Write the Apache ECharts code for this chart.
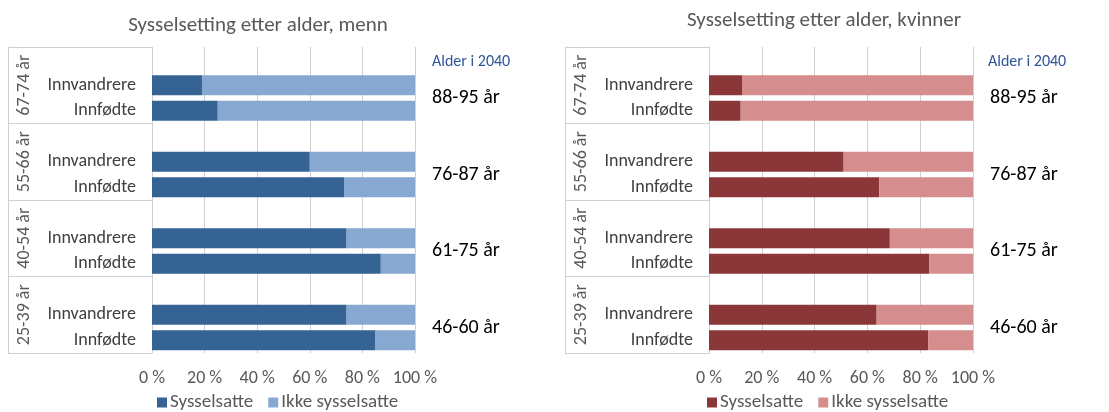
<!DOCTYPE html>
<html>
<head>
<meta charset="utf-8">
<script src="https://cdn.jsdelivr.net/npm/echarts@6/dist/echarts.min.js"></script>
<style>
  html, body { margin: 0; padding: 0; background: #fff; }
  #chart { width: 1109px; height: 412px; }
</style>
</head>
<body>
<div id="chart"></div>
<script>
// alle grupper, ovenfra og ned
const groups = ['67-74 år', '55-66 år', '40-54 år', '25-39 år'];
const ages2040 = ['88-95 år', '76-87 år', '61-75 år', '46-60 år'];
const rowNames = ['Innvandrere', 'Innfødte'];
const ticks = [0, 20, 40, 60, 80, 100];

// menn: [innvandrere, innfødte] per gruppe
const menSys = [[19, 25], [60, 73], [74, 87], [74, 85]];
const menIkke = [[81, 75], [40, 27], [26, 13], [26, 15]];
// kvinner
const womenSys = [[12.5, 12], [51, 64.5], [68.5, 83.5], [63.5, 83]];
const womenIkke = [[87.5, 88], [49, 35.5], [31.5, 16.5], [36.5, 17]];

const font = 'Carlito, Lato, "Liberation Sans", sans-serif';
const grey = '#595959';
const lineGrey = '#D0D0D0';

// hver gruppe: tom rad + to stolper
const rowLabels = [];
groups.forEach(function () { rowLabels.push('', rowNames[0], rowNames[1]); });

function toRows(arr) {
  const out = [];
  arr.forEach(function (g) { out.push(null, g[0], g[1]); });
  return out;
}

function axesFor(gi) {
  return [
    {
      type: 'category', gridIndex: gi, inverse: true,
      data: rowLabels.map(function (l, i) { return String(i); }),
      axisLine: { show: true, lineStyle: { color: lineGrey } },
      axisTick: { show: false },
      axisLabel: {
        interval: 0,
        formatter: function (v) { return rowLabels[+v]; },
        color: '#404040', fontSize: 18, fontFamily: font, margin: 16
      }
    },
    {
      type: 'category', gridIndex: gi, inverse: true, position: 'left', offset: 144,
      data: groups,
      axisLine: { show: true, lineStyle: { color: lineGrey } },
      axisTick: { show: true, inside: true, interval: 0, length: 144, lineStyle: { color: lineGrey } },
      axisLabel: {
        inside: true, rotate: 90, margin: 7, interval: 0, hideOverlap: false,
        color: grey, fontSize: 18, fontFamily: font
      }
    },
    {
      type: 'category', gridIndex: gi, inverse: true, position: 'right',
      data: ages2040,
      axisLine: { show: false },
      axisTick: { show: false },
      axisLabel: {
        interval: 0,
        color: '#000', fontSize: 20, fontFamily: font, margin: 17,
        verticalAlign: 'top', lineHeight: 26
      }
    }
  ];
}

function xAxisFor(gi) {
  return {
    type: 'value', gridIndex: gi, min: ticks[0], max: ticks[ticks.length - 1], interval: 20,
    axisLine: { show: false },
    axisTick: { show: false },
    splitLine: { show: true, lineStyle: { color: lineGrey } },
    axisLabel: { formatter: '{value} %', color: grey, fontSize: 18, fontFamily: font, margin: 16 }
  };
}

function legendFor(left, dark, light) {
  return {
    left: left, top: 393, padding: 0, icon: 'rect', itemWidth: 10, itemHeight: 10, itemGap: 15,
    textStyle: { color: grey, fontSize: 19, fontFamily: font, padding: [0, 0, 0, -2] },
    data: [
      { name: 'Sysselsatte', itemStyle: { color: dark } },
      { name: 'Ikke sysselsatte', itemStyle: { color: light } }
    ]
  };
}

const menDark = '#346394', menLight = '#87A9D1';
const womenDark = '#8B373A', womenLight = '#D58D8D';

function barSeries(name, xi, yi, stack, color, data) {
  return {
    name: name, type: 'bar', stack: stack, xAxisIndex: xi, yAxisIndex: yi,
    barWidth: 20, itemStyle: { color: color }, data: toRows(data),
    emphasis: { disabled: true }
  };
}

const titleStyle = { color: grey, fontSize: 21, fontWeight: 'normal', fontFamily: font };
const alderStyle = { color: '#2F5597', fontSize: 16, fontWeight: 'normal', fontFamily: font };

const chart = echarts.init(document.getElementById('chart'));
chart.setOption({
  animation: false,
  title: [
    { text: 'Sysselsetting etter alder, menn', left: 258, top: 15, padding: 0, textAlign: 'center', textStyle: titleStyle },
    { text: 'Sysselsetting etter alder, kvinner', left: 824, top: 10, padding: 0, textAlign: 'center', textStyle: titleStyle },
    { text: 'Alder i 2040', left: 432, top: 54, padding: 0, textStyle: alderStyle },
    { text: 'Alder i 2040', left: 988, top: 54, padding: 0, textStyle: alderStyle }
  ],
  legend: [legendFor(157, menDark, menLight), legendFor(707, womenDark, womenLight)],
  grid: [
    { left: 152, right: 694, top: 47, bottom: 59 },
    { left: 709, right: 136, top: 47, bottom: 59 }
  ],
  xAxis: [xAxisFor(0), xAxisFor(1)],
  yAxis: axesFor(0).concat(axesFor(1)),
  series: [
    barSeries('Sysselsatte', 0, 0, 'menn', menDark, menSys),
    barSeries('Ikke sysselsatte', 0, 0, 'menn', menLight, menIkke),
    barSeries('Sysselsatte', 1, 3, 'kvinner', womenDark, womenSys),
    barSeries('Ikke sysselsatte', 1, 3, 'kvinner', womenLight, womenIkke)
  ]
});
</script>
</body>
</html>
